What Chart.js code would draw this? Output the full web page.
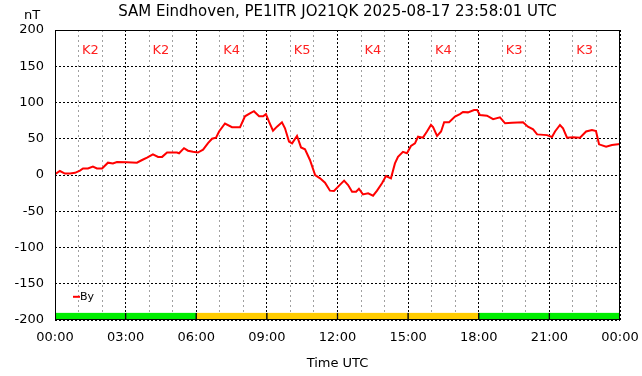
<!DOCTYPE html>
<html><head><meta charset="utf-8">
<script src="https://cdn.jsdelivr.net/npm/chart.js@4.4.0/dist/chart.umd.min.js"></script>
<style>html,body{margin:0;padding:0;background:#fff;}#wrap{width:642px;height:376px;}</style>
</head><body><div id="wrap"><canvas id="c" width="642" height="376"></canvas></div>
<script>
// ---- data ----
const chartTitle = 'SAM Eindhoven, PE1ITR JO21QK 2025-08-17 23:58:01 UTC';
const seriesName = 'By';
const hours = [0.00,0.21,0.42,0.64,0.85,1.06,1.19,1.40,1.61,1.78,2.00,2.25,2.46,2.63,3.06,3.48,3.70,3.91,4.16,4.38,4.55,4.76,5.18,5.27,5.48,5.65,5.86,6.07,6.29,6.50,6.67,6.84,6.97,7.22,7.52,7.86,8.07,8.28,8.45,8.67,8.84,8.96,9.09,9.26,9.43,9.64,9.77,9.94,10.07,10.28,10.45,10.62,10.83,11.05,11.26,11.47,11.68,11.85,12.06,12.28,12.45,12.62,12.79,12.91,13.08,13.30,13.51,13.68,13.89,14.06,14.27,14.44,14.57,14.78,14.95,15.12,15.29,15.42,15.63,15.80,15.97,16.06,16.23,16.40,16.53,16.74,16.99,17.20,17.33,17.54,17.80,17.93,18.05,18.35,18.61,18.90,19.12,19.41,19.88,20.09,20.31,20.48,20.90,21.11,21.24,21.45,21.58,21.75,22.00,22.30,22.56,22.81,22.98,23.11,23.41,23.66,24.00];
const byValues = [1,5.5,2,2,3,6,9,9,11.5,9,9,17,16,18,17.5,17,20.7,24,28.5,25,25,31,31,30,37,33.5,32,31,35,44,50,51.5,60,71,66,66,81,85,88,81,81,84,73.5,61,66.7,72.7,64.4,46,43.7,53.8,38,35.4,20.7,0,-4.6,-10.6,-21.6,-22,-15,-7.8,-13.8,-23,-23,-18.9,-26.7,-25.3,-28.5,-21.6,-11.5,-1.4,-4.6,16,25,32,30,40,43.7,52.8,51.5,60,69,66,54,60,72.7,72.7,80.5,84,87,86.4,89.7,89.7,82.8,81.8,77,79.6,71.3,72,72.7,66.7,63,56,55,52.4,60,69,64.4,51.5,52,51.5,60,62,60.7,42.3,39,41.4,42.8];
const kIndex = [2,2,4,5,4,4,3,3];          // per 3-hour block
const kBlockStart = [0,3,6,9,12,15,18,21];  // hours
const yTicks = [-200,-150,-100,-50,0,50,100,150,200];
const majorHourTicks = [0,3,6,9,12,15,18,21,24];
const minorHourTicks = [1,2,4,5,7,8,10,11,13,14,16,17,19,20,22,23];

const kColor = k => k >= 4 ? '#ffcc00' : '#00ee00';

const overlay = {
  id: 'overlay',
  afterDraw(chart) {
    const {ctx, chartArea: a, scales} = chart;
    const xs = scales.x, ys = scales.y;
    ctx.save();
    // frame
    ctx.strokeStyle = '#000'; ctx.lineWidth = 1; ctx.setLineDash([]);
    const l = Math.round(a.left) + 0.5, t = Math.round(a.top) + 0.5;
    const r = Math.round(a.right) - 0.5, b = Math.round(a.bottom) - 0.5;
    ctx.strokeRect(l, t, r - l, b - t);
    // title
    ctx.fillStyle = '#000';
    ctx.font = '15px "DejaVu Sans"';
    ctx.textAlign = 'center'; ctx.textBaseline = 'middle';
    ctx.fillText(chartTitle, (a.left + a.right)/2, 12);
    ctx.font = '13px "DejaVu Sans"';
    ctx.fillText('nT', 32, 16);
    // K labels
    ctx.fillStyle = '#ff2020';
    ctx.font = '13px "DejaVu Sans"';
    kIndex.forEach((k, i) => {
      const xc = xs.getPixelForValue(kBlockStart[i] + 1.5);
      ctx.fillText('K' + k, xc, ys.getPixelForValue(172));
    });
    // legend
    const ly = ys.getPixelForValue(-168);
    ctx.strokeStyle = '#ff0000'; ctx.lineWidth = 2;
    ctx.beginPath(); ctx.moveTo(73, ly); ctx.lineTo(80, ly); ctx.stroke();
    ctx.fillStyle = '#000'; ctx.font = '11px "DejaVu Sans"'; ctx.textAlign = 'left';
    ctx.fillText(seriesName, 80, ly);
    ctx.restore();
  }
};

new Chart(document.getElementById('c'), {
  data: {
    datasets: [
      {
        type: 'line', label: seriesName,
        data: hours.map((h, i) => ({x: h, y: byValues[i]})),
        borderColor: '#ff0000', borderWidth: 2, pointRadius: 0, tension: 0, order: 1
      },
      {
        type: 'bar', label: 'K',
        data: kBlockStart.map(h => ({x: h + 1.5, y: [-200, -190]})),
        backgroundColor: kIndex.map(kColor),
        borderColor: '#000', borderWidth: {left: 1, right: 1, top: 0, bottom: 0},
        borderSkipped: false,
        barPercentage: 1, categoryPercentage: 1, grouped: false, order: 2
      }
    ]
  },
  options: {
    responsive: false, animation: false,
    layout: {padding: {top: 30, right: 22, left: 0, bottom: 0}},
    plugins: {legend: {display: false}, tooltip: {enabled: false}, title: {display: false}},
    scales: {
      x: {
        type: 'linear', min: 0, max: 24, offset: false,
        afterFit: s => { s.height = 56; s.paddingRight = 0; s.paddingLeft = 0; },
        afterBuildTicks: s => { s.ticks = majorHourTicks.map(v => ({value: v})); },
        ticks: {
          autoSkip: false, maxRotation: 0, padding: 10, color: '#000',
          font: {family: 'DejaVu Sans', size: 13},
          callback: v => String(v % 24).padStart(2, '0') + ':00'
        },
        grid: {offset: false, drawTicks: false, lineWidth: 1, color: '#000'},
        border: {display: false, dash: [2, 2]},
        title: {display: true, text: 'Time UTC', color: '#000', font: {family: 'DejaVu Sans', size: 13}, padding: {top: 8, bottom: 5}}
      },
      x2: {
        type: 'linear', min: 0, max: 24, offset: false, position: 'bottom',
        afterFit: s => { s.height = 0; s.paddingRight = 0; s.paddingLeft = 0; },
        afterBuildTicks: s => { s.ticks = minorHourTicks.map(v => ({value: v})); },
        ticks: {display: false},
        grid: {offset: false, drawTicks: false, lineWidth: 1, color: '#a0a0a0'},
        border: {display: false, dash: [2, 3]}
      },
      y: {
        type: 'linear', min: -200, max: 200,
        afterFit: s => { s.width = 55; },
        afterBuildTicks: s => { s.ticks = yTicks.map(v => ({value: v})); },
        ticks: {padding: 11, color: '#000', font: {family: 'DejaVu Sans', size: 13}},
        grid: {drawTicks: false, color: '#000', lineWidth: 1},
        border: {display: false, dash: [2, 2]}
      }
    }
  },
  plugins: [overlay]
});
</script></body></html>
